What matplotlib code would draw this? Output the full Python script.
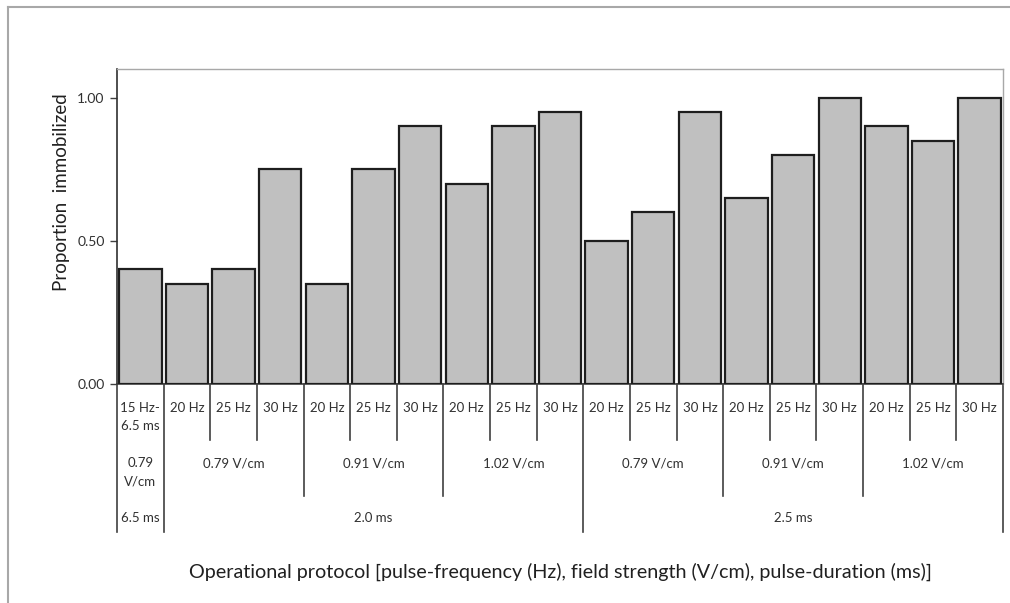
import matplotlib
matplotlib.use("Agg")
import matplotlib.pyplot as plt
from matplotlib.lines import Line2D
from matplotlib.transforms import blended_transform_factory

plt.rcParams['font.family'] = ['Lato', 'DejaVu Sans']

# Proportion of animals immobilized per protocol
values = [0.40, 0.35, 0.40, 0.75, 0.35, 0.75, 0.90, 0.70, 0.90, 0.95,
          0.50, 0.60, 0.95, 0.65, 0.80, 1.00, 0.90, 0.85, 1.00]

# Level 1: pulse frequency
freq_labels = ["15 Hz-\n6.5 ms"] + ["20 Hz", "25 Hz", "30 Hz"] * 6

# Level 2: field strength (label, first index, last index)
strength_groups = [("0.79\nV/cm", 0, 0),
                   ("0.79 V/cm", 1, 3), ("0.91 V/cm", 4, 6), ("1.02 V/cm", 7, 9),
                   ("0.79 V/cm", 10, 12), ("0.91 V/cm", 13, 15), ("1.02 V/cm", 16, 18)]

# Level 3: pulse duration
duration_groups = [("6.5 ms", 0, 0), ("2.0 ms", 1, 9), ("2.5 ms", 10, 18)]

yticks = [0.0, 0.5, 1.0]
ytick_labels = ["0.00", "0.50", "1.00"]

W, H = 1010, 603
fig = plt.figure(figsize=(W / 100, H / 100), dpi=100)
ax_l, ax_r, ax_t, ax_b = 117, 1003, 69, 384
ax = fig.add_axes([ax_l / W, 1 - ax_b / H, (ax_r - ax_l) / W, (ax_b - ax_t) / H])

x = list(range(len(values)))
ax.bar(x, values, width=0.91, color="#c0c0c0", edgecolor="#1e1e1e", linewidth=1.6, zorder=3)
ax.set_xlim(-0.5, len(values) - 0.5)
ax.set_ylim(0, 1.10)
ax.set_yticks(yticks)
ax.set_yticklabels(ytick_labels, fontsize=10, color="#303030")
ax.set_xticks([])
ax.tick_params(axis="y", direction="out", length=5, width=1, color="#404040", pad=4)

for side in ("top", "right"):
    ax.spines[side].set_color("#a8a8a8")
    ax.spines[side].set_linewidth(1.0)
ax.spines["left"].set_color("#303030")
ax.spines["left"].set_linewidth(1.2)
ax.spines["bottom"].set_color("#404040")
ax.spines["bottom"].set_linewidth(1.2)

# Hierarchical category axis below the plot
ax_h = ax_b - ax_t
def yfrac(px):
    return -(px - ax_b) / ax_h

tr = blended_transform_factory(ax.transData, ax.transAxes)
sep_kw = dict(color="#404040", linewidth=1.2, transform=tr, clip_on=False)

lvl1_end, lvl2_end, lvl3_end = yfrac(440), yfrac(496), yfrac(532)
n = len(values)
lvl2_bounds = set()
for _, a, b in strength_groups:
    lvl2_bounds.update([a - 0.5, b + 0.5])
lvl3_bounds = set()
for _, a, b in duration_groups:
    lvl3_bounds.update([a - 0.5, b + 0.5])

for i in range(n + 1):
    xb = i - 0.5
    if xb in lvl3_bounds:
        end = lvl3_end
    elif xb in lvl2_bounds:
        end = lvl2_end
    else:
        end = lvl1_end
    ax.add_line(Line2D([xb, xb], [0, end], **sep_kw))

txt_kw = dict(transform=tr, ha="center", va="top", fontsize=9.5, color="#303030",
              linespacing=1.6, clip_on=False)
for i, lab in enumerate(freq_labels):
    ax.text(i, yfrac(402), lab, **txt_kw)
for lab, a, b in strength_groups:
    ax.text((a + b) / 2, yfrac(457), lab, **txt_kw)
for lab, a, b in duration_groups:
    ax.text((a + b) / 2, yfrac(512), lab, **txt_kw)

fig.text(62 / W, 1 - 192 / H, "Proportion  immobilized", rotation=90,
         ha="center", va="center", fontsize=13.5, color="#202020")
fig.text(560 / W, 1 - 572 / H,
         "Operational protocol [pulse-frequency (Hz), field strength (V/cm), pulse-duration (ms)]",
         ha="center", va="center", fontsize=14.2, color="#202020")

# Outer chart frame
frame_kw = dict(color="#a8a8a8", linewidth=1.5, transform=fig.transFigure)
fig.add_artist(Line2D([8 / W, 1.0], [1 - 7 / H, 1 - 7 / H], **frame_kw))
fig.add_artist(Line2D([8 / W, 8 / W], [1 - 7 / H, 0.0], **frame_kw))

fig.savefig("out.png", dpi=100)
